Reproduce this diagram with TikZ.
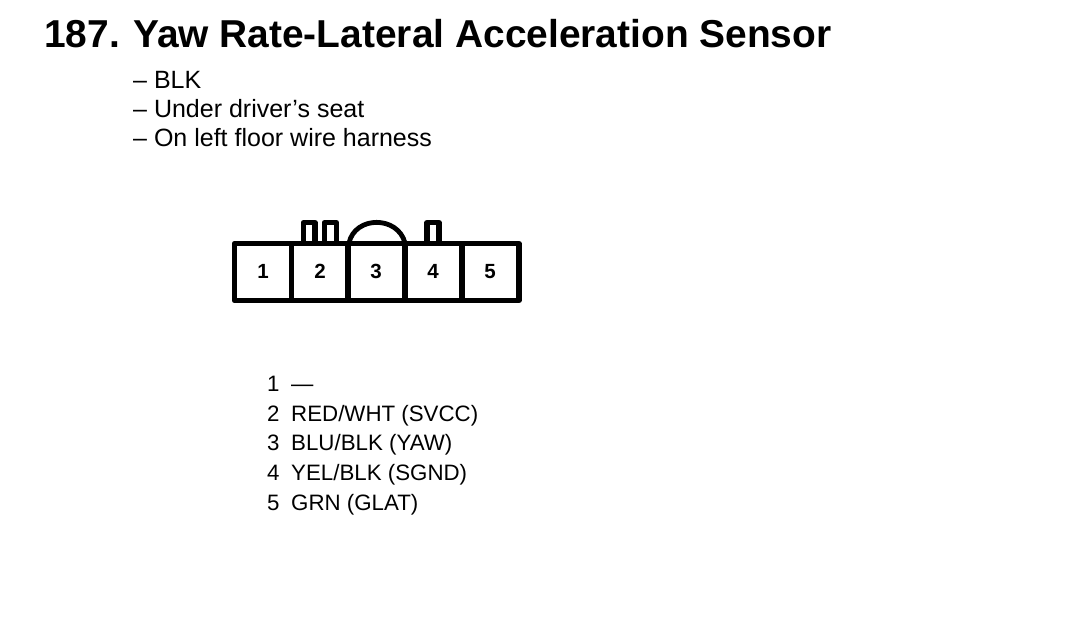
\documentclass[tikz,border=0pt]{standalone}
\usepackage{fontspec}
\setmainfont{Liberation Sans}
\tikzset{
  ttl/.style={anchor=base west,inner sep=0pt,font=\bfseries\fontsize{38.9}{42}\selectfont},
  txt/.style={anchor=base west,inner sep=0pt,font=\fontsize{25}{28}\selectfont},
  leg/.style={anchor=base west,inner sep=0pt,font=\fontsize{22.3}{26}\selectfont},
  pin/.style={anchor=base,inner sep=0pt,font=\bfseries\fontsize{20.5}{24}\selectfont},
  wire/.style={line width=5.4pt,black,line join=round},
  arc/.style={line width=4.8pt,black}
}
\begin{document}
\begin{tikzpicture}[x=1pt,y=-1pt,line cap=butt]
\useasboundingbox (0,0) rectangle (1072,640);
\node[ttl] (n187) at (44,47) {187.};
\node[ttl] (title) at (133,47) {Yaw Rate-Lateral Acceleration Sensor};
\node[txt] (a1) at (133,88) {– BLK};
\node[txt] (a2) at (133,117.5) {– Under driver’s seat};
\node[txt] (a3) at (133,146) {– On left floor wire harness};
\draw[wire] (303.3,243) -- (303.3,222.7) -- (315,222.7) -- (315,243);
\draw[wire] (324.5,243) -- (324.5,222.7) -- (336.5,222.7) -- (336.5,243);
\draw[wire] (427,243) -- (427,222.7) -- (439,222.7) -- (439,243);
\draw[arc] (349,243) .. controls (355,215.5) and (398,215.5) .. (405,243);
\draw[wire] (234.5,243.5) rectangle (519,300.5);
\foreach \x in {291.5,348,405,462} \draw[wire] (\x,243.5) -- (\x,300.5);
\node[pin] (p1) at (263,278) {1};
\node[pin] (p2) at (320,278) {2};
\node[pin] (p3) at (376,278) {3};
\node[pin] (p4) at (433,278) {4};
\node[pin] (p5) at (490,278) {5};
\foreach \n/\y/\t in {1/391/{—},2/421/{RED/WHT (SVCC)},3/450.5/{BLU/BLK (YAW)},4/480/{YEL/BLK (SGND)},5/510/{GRN (GLAT)}}{
  \node[leg] (k\n) at (267,\y) {\n};
  \node[leg] (v\n) at (291,\y) {\t};
}
\end{tikzpicture}
\end{document}
